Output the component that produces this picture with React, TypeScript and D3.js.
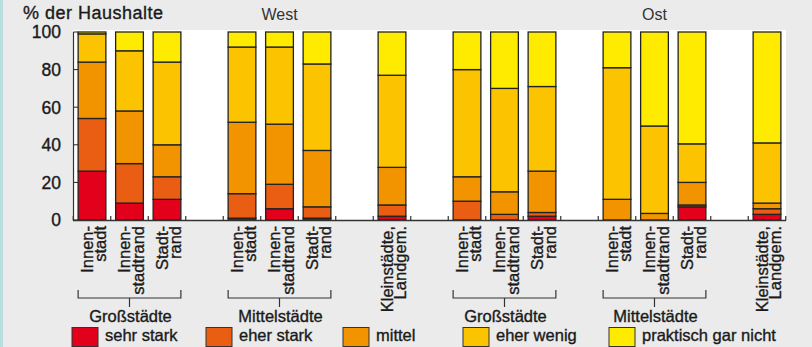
import React from "react";
import * as d3 from "d3";

// ---- data ----
const slots = [
  "wg1", "wg2", "wg3", "gapA", "wm1", "wm2", "wm3", "gapB", "wk",
  "gapC", "og1", "og2", "og3", "gapD", "om1", "om2", "om3", "gapE", "ok",
];
const barKeys = ["wg1", "wg2", "wg3", "wm1", "wm2", "wm3", "wk", "og1", "og2", "og3", "om1", "om2", "om3", "ok"];
const barLabels = [
  ["Innen-", "stadt"], ["Innen-", "stadtrand"], ["Stadt-", "rand"],
  ["Innen-", "stadt"], ["Innen-", "stadtrand"], ["Stadt-", "rand"],
  ["Kleinstädte,", "Landgem."],
  ["Innen-", "stadt"], ["Innen-", "stadtrand"], ["Stadt-", "rand"],
  ["Innen-", "stadt"], ["Innen-", "stadtrand"], ["Stadt-", "rand"],
  ["Kleinstädte,", "Landgem."],
];
const seriesNames = ["sehr stark", "eher stark", "mittel", "eher wenig", "praktisch gar nicht"];
const sehrStark = [26, 9, 11, 1, 6, 1, 2, 0, 0, 2, 0, 0, 7, 3];
const eherStark = [28, 21, 12, 13, 13, 6, 6, 10, 3, 2, 0, 0, 1, 3];
const mittel = [30, 28, 17, 38, 32, 30, 20, 13, 12, 22, 11, 3.5, 12, 3];
const eherWenig = [15, 32, 44, 40, 41, 46, 49, 57, 55, 45, 70, 46.5, 20.5, 32];
const garNicht = [1, 10, 16, 8, 8, 17, 23, 20, 30, 29, 19, 50, 59.5, 59];
const groups = [
  { label: "Großstädte", first: "wg1", last: "wg3" },
  { label: "Mittelstädte", first: "wm1", last: "wm3" },
  { label: "Großstädte", first: "og1", last: "og3" },
  { label: "Mittelstädte", first: "om1", last: "om3" },
];
const regions = [
  { label: "West", key: "wm2" },
  { label: "Ost", key: "om2" },
];
const yTicks = [0, 20, 40, 60, 80, 100];
const colors = ["#e2001a", "#e95e12", "#f29400", "#fcc300", "#ffeb00"];

const W = 812;
const H = 347;
const FONT = "'Liberation Sans', Arial, sans-serif";

export default function App() {
  const x = d3.scaleBand<string>().domain(slots).range([73.25, 785.75]).padding(0);
  const y = d3.scaleLinear().domain([0, 100]).range([220, 32]);
  const step = x.step();
  const bw = step * 0.74;
  const bx = (k: string) => (x(k) as number) + (step - bw) / 2;
  const cx = (k: string) => (x(k) as number) + step / 2;

  const rows = barKeys.map((k, i) => ({
    key: k,
    s0: sehrStark[i], s1: eherStark[i], s2: mittel[i], s3: eherWenig[i], s4: garNicht[i],
  }));
  const stack = d3.stack<any>().keys(["s0", "s1", "s2", "s3", "s4"]);
  const layers = stack(rows);

  const legendX = [72, 206, 343, 463, 609];
  const ink = "#222";
  const txt = { fill: "#1a1a1a", stroke: "#1a1a1a", strokeWidth: 0.35 };

  return (
    <div style={{ position: "fixed", left: 0, top: 0 }}>
      <svg width={W} height={H} style={{ display: "block" }} fontFamily={FONT}>
        <rect x={0} y={0} width={W} height={H} fill="#ebebeb" />
        <rect x={0} y={0} width={3} height={H} fill="#b9dede" />
        <rect x={73} y={30} width={713} height={190} fill="#ffffff" />

        {/* header */}
        <text x={23} y={19} fontSize={18} letterSpacing={0.5} {...txt}>% der Haushalte</text>
        {regions.map((r) => (
          <text key={r.label} x={cx(r.key)} y={20} fontSize={16} textAnchor="middle" fill="#333">{r.label}</text>
        ))}

        {/* y ticks */}
        {yTicks.map((t) => (
          <g key={t}>
            <line x1={73.5} x2={78} y1={y(t)} y2={y(t)} stroke={ink} strokeWidth={1} />
            <text x={61} y={y(t)} dy="0.36em" textAnchor="end" fontSize={17.5} {...txt}>{t}</text>
          </g>
        ))}

        {/* bars */}
        {layers.map((layer, li) => (
          <g key={li}>
            {layer.map((d, bi) => {
              const h = y(d[0]) - y(d[1]);
              if (h <= 0.01) return null;
              return (
                <rect
                  key={bi}
                  x={bx(rows[bi].key)}
                  y={y(d[1])}
                  width={bw}
                  height={h}
                  fill={colors[li]}
                  stroke={ink}
                  strokeWidth={1.3}
                />
              );
            })}
          </g>
        ))}

        {/* axes */}
        <line x1={73.5} x2={73.5} y1={32} y2={220.5} stroke="#333" strokeWidth={1.2} />
        <line x1={73} x2={786} y1={220.5} y2={220.5} stroke="#333" strokeWidth={1.5} />
        {d3.range(slots.length + 1).map((i) => {
          const xx = 73.25 + i * step;
          return <line key={i} x1={xx} x2={xx} y1={220.5} y2={216} stroke="#333" strokeWidth={1.2} />;
        })}

        {/* category labels */}
        {barKeys.map((k, i) => (
          <text
            key={k}
            transform={`translate(${cx(k)},226) rotate(-90)`}
            textAnchor="end"
            fontSize={16.5}
            {...txt}
          >
            <tspan x={0} y={0.5}>{barLabels[i][0]}</tspan>
            <tspan x={0} y={14.2}>{barLabels[i][1]}</tspan>
          </text>
        ))}

        {/* group brackets */}
        {groups.map((g, gi) => {
          const x1 = bx(g.first);
          const x2 = bx(g.last) + bw;
          const m = (x1 + x2) / 2;
          return (
            <g key={gi}>
              <path d={`M${x1},290V298H${x2}V290M${m},298V307`} fill="none" stroke="#333" strokeWidth={1.2} />
              <text x={m + 1} y={322} textAnchor="middle" fontSize={16.5} {...txt}>{g.label}</text>
            </g>
          );
        })}

        {/* legend */}
        {seriesNames.map((n, i) => (
          <g key={n}>
            <rect x={legendX[i]} y={327.5} width={26} height={19} fill={colors[i]} stroke="#333" strokeWidth={1} />
            <text x={legendX[i] + 33} y={341} fontSize={16.5} {...txt}>{n}</text>
          </g>
        ))}
      </svg>
    </div>
  );
}
